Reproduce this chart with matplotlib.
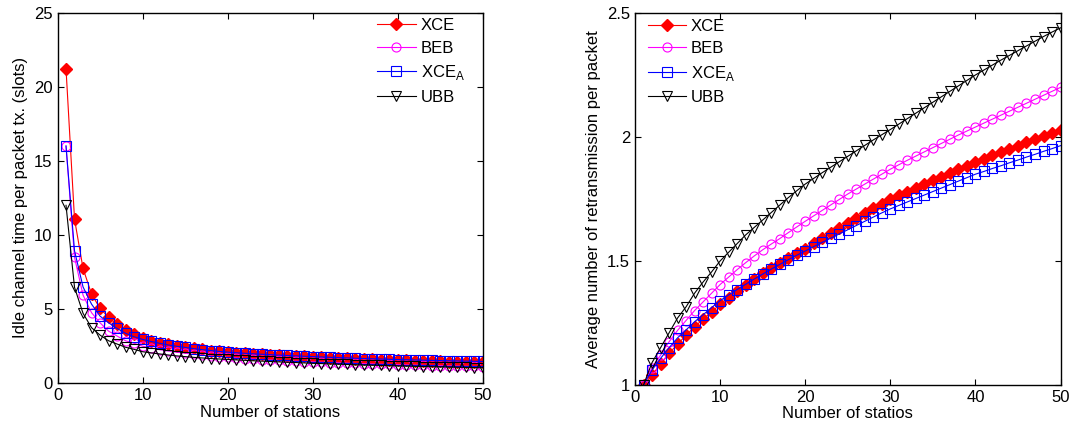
import matplotlib
matplotlib.use("Agg")
import matplotlib.pyplot as plt

plt.rcParams["font.family"] = ["Liberation Sans", "DejaVu Sans"]
plt.rcParams["mathtext.fontset"] = "custom"
plt.rcParams["mathtext.rm"] = "Liberation Sans"
plt.rcParams["font.size"] = 12

# number of stations
n = list(range(1, 51))

# idle channel time per packet tx. (slots)
idle_xce = [21.2, 11.07, 7.75, 6.02, 5.05, 4.45, 3.97, 3.59, 3.3, 3.05,
            2.88, 2.74, 2.62, 2.52, 2.43, 2.35, 2.28, 2.21, 2.15, 2.09,
            2.055, 2.02, 1.985, 1.952, 1.92, 1.892, 1.864, 1.836, 1.808, 1.78,
            1.755, 1.73, 1.706, 1.683, 1.66, 1.64, 1.62, 1.6, 1.58, 1.56,
            1.544, 1.528, 1.512, 1.496, 1.48, 1.466, 1.452, 1.438, 1.424, 1.41]
idle_beb = [16.0, 8.5, 5.95, 4.76, 4.08, 3.52, 3.19, 2.87, 2.7, 2.5,
            2.38, 2.27, 2.18, 2.1, 2.03, 1.96, 1.9, 1.85, 1.8, 1.75,
            1.71, 1.67, 1.635, 1.6, 1.57, 1.54, 1.515, 1.49, 1.465, 1.44,
            1.42, 1.4, 1.38, 1.36, 1.34, 1.322, 1.305, 1.288, 1.271, 1.255,
            1.24, 1.226, 1.212, 1.198, 1.185, 1.172, 1.16, 1.148, 1.136, 1.125]
idle_xcea = [16.0, 8.94, 6.5, 5.34, 4.53, 4.08, 3.7, 3.37, 3.14, 2.96,
             2.82, 2.7, 2.59, 2.5, 2.42, 2.34, 2.27, 2.21, 2.15, 2.1,
             2.06, 2.025, 1.99, 1.96, 1.93, 1.9, 1.875, 1.85, 1.825, 1.8,
             1.778, 1.756, 1.734, 1.712, 1.69, 1.672, 1.654, 1.636, 1.618, 1.6,
             1.586, 1.572, 1.558, 1.544, 1.53, 1.518, 1.506, 1.494, 1.482, 1.47]
idle_ubb = [12.0, 6.47, 4.72, 3.75, 3.25, 2.87, 2.65, 2.43, 2.29, 2.13,
            2.05, 1.98, 1.91, 1.85, 1.8, 1.75, 1.71, 1.67, 1.64, 1.61,
            1.58, 1.55, 1.52, 1.495, 1.47, 1.445, 1.42, 1.4, 1.375, 1.35,
            1.33, 1.31, 1.29, 1.27, 1.25, 1.235, 1.22, 1.205, 1.19, 1.175,
            1.16, 1.145, 1.132, 1.12, 1.108, 1.096, 1.084, 1.072, 1.06, 1.05]

# average number of retransmission per packet
retx_xce = [1.0, 1.04, 1.085, 1.127, 1.165, 1.2, 1.235, 1.265, 1.295, 1.325,
            1.352, 1.378, 1.403, 1.427, 1.45, 1.472, 1.493, 1.513, 1.532, 1.55,
            1.572, 1.593, 1.614, 1.634, 1.654, 1.673, 1.692, 1.712, 1.731, 1.75,
            1.765, 1.78, 1.795, 1.81, 1.825, 1.84, 1.855, 1.87, 1.885, 1.9,
            1.913, 1.926, 1.939, 1.952, 1.965, 1.978, 1.991, 2.004, 2.017, 2.03]
retx_beb = [1.0, 1.07, 1.12, 1.174, 1.22, 1.26, 1.3, 1.335, 1.37, 1.405,
            1.435, 1.465, 1.493, 1.52, 1.545, 1.568, 1.59, 1.614, 1.637, 1.66,
            1.682, 1.704, 1.726, 1.748, 1.77, 1.79, 1.81, 1.83, 1.85, 1.87,
            1.888, 1.906, 1.923, 1.94, 1.957, 1.974, 1.991, 2.008, 2.024, 2.04,
            2.056, 2.072, 2.088, 2.104, 2.12, 2.136, 2.152, 2.168, 2.184, 2.2]
retx_xcea = [1.0, 1.06, 1.107, 1.15, 1.19, 1.222, 1.255, 1.283, 1.312, 1.34,
             1.363, 1.385, 1.406, 1.427, 1.447, 1.467, 1.486, 1.505, 1.523, 1.54,
             1.558, 1.575, 1.592, 1.609, 1.626, 1.643, 1.66, 1.677, 1.694, 1.71,
             1.724, 1.738, 1.752, 1.766, 1.78, 1.794, 1.808, 1.822, 1.836, 1.85,
             1.861, 1.873, 1.884, 1.896, 1.907, 1.919, 1.93, 1.942, 1.953, 1.965]
retx_ubb = [1.0, 1.09, 1.15, 1.21, 1.27, 1.315, 1.37, 1.415, 1.456, 1.5,
            1.535, 1.57, 1.605, 1.635, 1.665, 1.695, 1.725, 1.755, 1.783, 1.81,
            1.833, 1.856, 1.878, 1.9, 1.922, 1.944, 1.966, 1.988, 2.009, 2.03,
            2.052, 2.074, 2.096, 2.118, 2.14, 2.162, 2.184, 2.206, 2.228, 2.25,
            2.27, 2.29, 2.31, 2.329, 2.348, 2.367, 2.386, 2.405, 2.423, 2.44]

labels = ["XCE", "BEB", r"XCE$_\mathrm{A}$", "UBB"]


def draw(ax, series):
    ax.plot(n, series[0], "-", color="red", lw=0.8, marker="D", ms=6.3,
            mfc="red", mec="red", label=labels[0])
    ax.plot(n, series[1], "-", color="magenta", lw=0.8, marker="o", ms=6.5,
            mfc="none", mec="magenta", mew=0.8, label=labels[1])
    ax.plot(n, series[2], "-", color="blue", lw=0.8, marker="s", ms=6.5,
            mfc="none", mec="blue", mew=0.8, label=labels[2])
    ax.plot(n, series[3], "-", color="black", lw=0.8, marker="v", ms=7,
            mfc="none", mec="black", mew=0.8, label=labels[3])
    ax.tick_params(direction="in", top=True, right=True, length=4, labelsize=12)
    for s in ax.spines.values():
        s.set_linewidth(1.0)


fig = plt.figure(figsize=(10.77, 4.30), dpi=100)

ax1 = fig.add_axes([0.0534, 0.1086, 0.3948, 0.8623])
draw(ax1, [idle_xce, idle_beb, idle_xcea, idle_ubb])
ax1.set_xlim(0, 50)
ax1.set_ylim(0, 25)
ax1.set_xticks([0, 10, 20, 30, 40, 50])
ax1.set_yticks([0, 5, 10, 15, 20, 25])
ax1.set_xlabel("Number of stations", labelpad=1)
ax1.set_ylabel("Idle channel time per packet tx. (slots)", labelpad=4)
ax1.legend(loc="upper left", bbox_to_anchor=(0.752, 0.985), frameon=False,
           numpoints=1, handlelength=2.3, handletextpad=0.3, labelspacing=0.45,
           borderaxespad=0, borderpad=0)

ax2 = fig.add_axes([0.5896, 0.1047, 0.3951, 0.8651])
draw(ax2, [retx_xce, retx_beb, retx_xcea, retx_ubb])
ax2.set_xlim(0, 50)
ax2.set_ylim(1, 2.5)
ax2.set_xticks([0, 10, 20, 30, 40, 50])
ax2.set_yticks([1, 1.5, 2, 2.5])
ax2.set_yticklabels(["1", "1.5", "2", "2.5"])
ax2.set_xlabel("Number of statios", labelpad=1)
ax2.set_ylabel("Average number of retransmission per packet", labelpad=4)
ax2.legend(loc="upper left", bbox_to_anchor=(0.03, 0.985), frameon=False,
           numpoints=1, handlelength=2.3, handletextpad=0.3, labelspacing=0.45,
           borderaxespad=0, borderpad=0)

fig.savefig("out.png", dpi=100)
